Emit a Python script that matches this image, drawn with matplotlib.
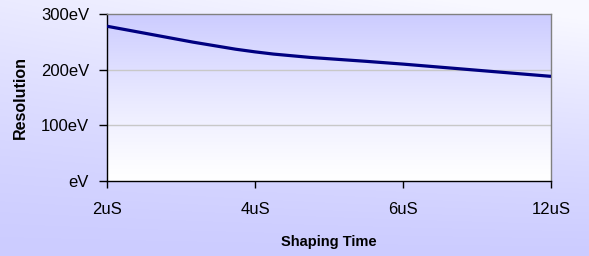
import numpy as np
import matplotlib
matplotlib.use("Agg")
import matplotlib.pyplot as plt
from matplotlib.path import Path
from matplotlib.patches import PathPatch
from matplotlib.colors import LinearSegmentedColormap

categories = ["2uS", "4uS", "6uS", "12uS"]
resolution = [278, 232, 210, 188]
y_ticks = [0, 100, 200, 300]
y_tick_labels = ["eV", "100eV", "200eV", "300eV"]

plt.rcParams['font.family'] = ['Liberation Sans', 'DejaVu Sans']

fig = plt.figure(figsize=(5.89, 2.56), dpi=100)

# figure background gradient
bg = fig.add_axes([0, 0, 1, 1], zorder=-10)
bg.axis('off')
yy, xx = np.mgrid[0:1:256j, 0:1:589j]
g = np.clip(0.7 * yy ** 1.3 + 0.4 * xx * yy, 0, 1)
bg_cmap = LinearSegmentedColormap.from_list('bg', ['#CCCCFF', '#F8F8FF'])
bg.imshow(g, cmap=bg_cmap, aspect='auto', origin='lower', extent=[0, 1, 0, 1])
bg.set_xlim(0, 1); bg.set_ylim(0, 1)

ax = fig.add_axes([107/589, 1 - 181/256, (551-107)/589, (181-14)/256])
x = np.arange(len(categories))
ax.set_xlim(0, len(categories) - 1)
ax.set_ylim(0, 300)

# plot area gradient
pa_cmap = LinearSegmentedColormap.from_list('pa', ['#FFFFFF', '#CCCCFF'])
grad = np.linspace(0, 1, 256).reshape(-1, 1) ** 1.2
ax.imshow(grad, cmap=pa_cmap, aspect='auto', origin='lower',
          extent=[0, len(categories) - 1, 0, 300], zorder=0)

# gridlines
for v in y_ticks[1:-1]:
    ax.axhline(v, color='#C8C8C8', lw=1.0, zorder=1)

# smoothed line (Catmull-Rom Bezier through the data points)
pts = np.column_stack([x, resolution]).astype(float)
ext = np.vstack([pts[0], pts, pts[-1]])
verts = [tuple(pts[0])]
codes = [Path.MOVETO]
for i in range(len(pts) - 1):
    p0, p1, p2, p3 = ext[i], ext[i + 1], ext[i + 2], ext[i + 3]
    c1 = p1 + (p2 - p0) / 6.0
    c2 = p2 - (p3 - p1) / 6.0
    verts += [tuple(c1), tuple(c2), tuple(p2)]
    codes += [Path.CURVE4] * 3
ax.add_patch(PathPatch(Path(verts, codes), facecolor='none', edgecolor='#000080',
                       lw=2.3, zorder=3, capstyle='butt'))

ax.set_xticks(x)
ax.set_xticklabels(categories, fontsize=12)
ax.set_yticks(y_ticks)
ax.set_yticklabels(y_tick_labels, fontsize=12)
ax.tick_params(axis='x', direction='out', length=5, width=1, color='#000000', pad=10)
ax.tick_params(axis='y', direction='out', length=6, width=1, color='#000000', pad=7)

for s in ['left', 'bottom']:
    ax.spines[s].set_color('#000000')
    ax.spines[s].set_linewidth(1.0)
for s in ['top', 'right']:
    ax.spines[s].set_color('#808080')
    ax.spines[s].set_linewidth(1.0)

ax.set_xlabel("Shaping Time", fontsize=10.5, fontweight='bold', labelpad=13)
ax.set_ylabel("Resolution", fontsize=11.5, fontweight='bold', labelpad=9)

fig.savefig("out.png", dpi=100)
